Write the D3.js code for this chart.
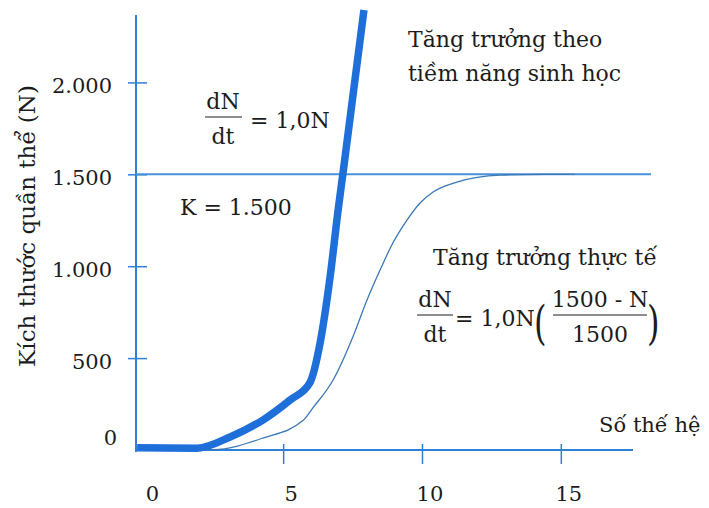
<!DOCTYPE html>
<html>
<head>
<meta charset="utf-8">
<script src="https://cdn.jsdelivr.net/npm/d3@7"></script>
<style>
  body { margin: 0; background: #fff; }
  svg text { font-family: "DejaVu Serif", serif; fill: #1c1c1c; }
</style>
</head>
<body>
<div id="chart"></div>
<script>
// Values
const expGen = [-0.26, 1.9, 3.09, 4.27, 5.25, 5.96, 6.33, 6.69, 6.98, 7.16, 7.91];
const expN = [12, 10, 71, 163, 272, 365, 582, 941, 1306, 1513, 2394];

const logGen = [1.0, 2.47, 4.27, 5.71, 6.07, 6.8, 7.51, 8.02, 8.49, 8.95, 9.46, 9.93, 10.4, 11.26, 12.81, 14.36, 15.5];
const logN = [5, 2, 65, 160, 229, 381, 615, 816, 979, 1126, 1251, 1344, 1404, 1458, 1496, 1500, 1500];

const K = 1500;
const yTicks = [0, 500, 1000, 1500, 2000];
const xTicks = [0, 5, 10, 15];

const width = 709, height = 508;
const axisColor = "#2d7fd8";

const svg = d3.select("#chart").append("svg")
  .attr("width", width)
  .attr("height", height);

svg.append("rect").attr("width", width).attr("height", height).attr("fill", "#fff");

const x = d3.scaleLinear().domain([-0.3, 17.6]).range([136, 633]);
const y = d3.scaleLinear().domain([0, 2000]).range([450, 82.4]);

const vn = d3.formatLocale({ decimal: ",", thousands: ".", grouping: [3], currency: ["", ""] });
const fmt = vn.format(",");

// axes lines
svg.append("line")
  .attr("x1", x(-0.3)).attr("x2", x(-0.3))
  .attr("y1", y(0) + 2).attr("y2", 15)
  .attr("stroke", axisColor).attr("stroke-width", 2);
svg.append("line")
  .attr("x1", x(-0.3)).attr("x2", 633)
  .attr("y1", y(0)).attr("y2", y(0))
  .attr("stroke", axisColor).attr("stroke-width", 2);

// y ticks (crossing the axis)
const yAxis = svg.append("g")
  .attr("transform", `translate(${x(-0.3)},0)`)
  .call(d3.axisLeft(y).tickValues(yTicks.filter(d => d > 0)).tickSize(8).tickFormat(""));
yAxis.select(".domain").remove();
yAxis.selectAll(".tick line").attr("x2", 11).attr("x1", -8)
  .attr("stroke", axisColor).attr("stroke-width", 1.5);

// x ticks
const xAxis = svg.append("g")
  .attr("transform", `translate(0,${y(0)})`)
  .call(d3.axisBottom(x).tickValues(xTicks.filter(d => d > 0)).tickSize(14).tickFormat(""));
xAxis.select(".domain").remove();
xAxis.selectAll(".tick line").attr("y1", -6)
  .attr("stroke", axisColor).attr("stroke-width", 1.5);

// tick labels
svg.selectAll(".ylab").data(yTicks).join("text")
  .attr("class", "ylab")
  .attr("x", d => d === 0 ? 117 : 112)
  .attr("y", d => y(d) + (d === 0 ? -5 : 11))
  .attr("text-anchor", "end")
  .attr("font-size", 21)
  .text(d => fmt(d));

svg.selectAll(".xlab").data(xTicks).join("text")
  .attr("class", "xlab")
  .attr("x", d => x(d) + 8)
  .attr("y", 501)
  .attr("text-anchor", "middle")
  .attr("font-size", 21)
  .text(d => d);

// axis titles
svg.append("text")
  .attr("transform", "translate(35,226) rotate(-90)")
  .attr("text-anchor", "middle")
  .attr("font-size", 23)
  .text("Kích thước quần thể (N)");

svg.append("text")
  .attr("x", 599).attr("y", 432)
  .attr("font-size", 21)
  .text("Số thế hệ");

// carrying capacity line
svg.append("line")
  .attr("x1", x(-0.3)).attr("x2", 651)
  .attr("y1", y(K)).attr("y2", y(K))
  .attr("stroke", "#4a92d6").attr("stroke-width", 2);

const line = d3.line().curve(d3.curveMonotoneX);

// logistic (thin)
svg.append("path")
  .attr("d", line(logGen.map((g, i) => [x(g), y(logN[i])])))
  .attr("fill", "none")
  .attr("stroke", "#3c78b6")
  .attr("stroke-width", 1.3);

// exponential (thick)
svg.append("path")
  .attr("d", line(expGen.map((g, i) => [x(g), y(expN[i])])))
  .attr("fill", "none")
  .attr("stroke", "#1f6fda")
  .attr("stroke-width", 7.5)
  .attr("stroke-linejoin", "round");

// annotations
const fs = 22;
svg.append("text").attr("x", 408).attr("y", 47).attr("font-size", fs).text("Tăng trưởng theo");
svg.append("text").attr("x", 408).attr("y", 81).attr("font-size", fs).text("tiềm năng sinh học");

svg.append("text").attr("x", 180).attr("y", 215).attr("font-size", fs).text("K = 1.500");

// fraction helper
function fraction(cx, top, bottom, x1, x2, yBar, size) {
  svg.append("text").attr("x", cx).attr("y", yBar - 8).attr("text-anchor", "middle")
    .attr("font-size", size).text(top);
  svg.append("line").attr("x1", x1).attr("x2", x2).attr("y1", yBar).attr("y2", yBar)
    .attr("stroke", "#1c1c1c").attr("stroke-width", 1.2);
  svg.append("text").attr("x", cx).attr("y", yBar + 27).attr("text-anchor", "middle")
    .attr("font-size", size).text(bottom);
}

fraction(223, "dN", "dt", 205, 242, 117, fs);
svg.append("text").attr("x", 250).attr("y", 128).attr("font-size", fs).text("= 1,0N");

svg.append("text").attr("x", 433).attr("y", 265).attr("font-size", fs).text("Tăng trưởng thực tế");
fraction(435, "dN", "dt", 417, 453, 315, fs);
svg.append("text").attr("x", 455).attr("y", 326).attr("font-size", fs).text("= 1,0N");
svg.append("text").attr("x", 534).attr("y", 339).attr("font-size", 46)
  .attr("transform", "translate(534,339) scale(0.7,1) translate(-534,-339)").text("(");
fraction(600, "1500 - N", "1500", 553, 647, 315, fs);
svg.append("text").attr("x", 647).attr("y", 339).attr("font-size", 46)
  .attr("transform", "translate(647,339) scale(0.7,1) translate(-647,-339)").text(")");
</script>
</body>
</html>
